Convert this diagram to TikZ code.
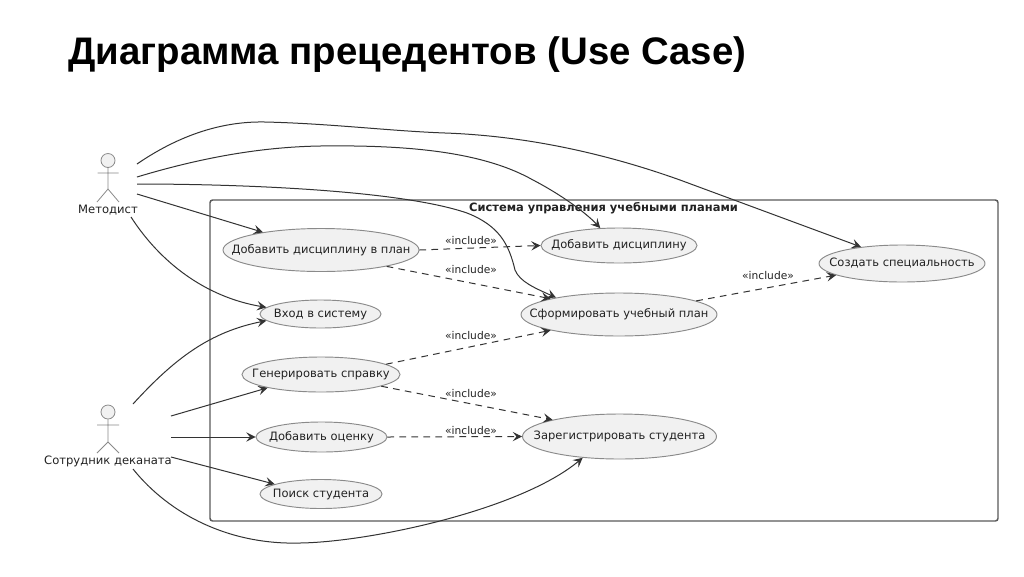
\documentclass[tikz,border=0pt]{standalone}
\usepackage{fontspec}
\setmainfont{DejaVu Sans}
\newfontfamily\titlefont{Liberation Sans}
\usetikzlibrary{shapes.geometric,arrows.meta}
\definecolor{edgec}{HTML}{333333}
\definecolor{casefill}{HTML}{F1F1F1}
\definecolor{casedraw}{HTML}{8A8A8A}
\definecolor{framec}{HTML}{5A5A5A}
\definecolor{txtc}{HTML}{222222}
\newcommand{\uctext}[1]{\makebox[0pt][c]{\raisebox{-1.1pt}{#1}}}
\tikzset{
  x=0.75pt,y=-0.75pt,
  usecase/.style={ellipse,draw=casedraw,fill=casefill,line width=0.7pt,inner sep=0pt,text=txtc,font=\fontsize{8.63}{10}\selectfont},
  assoc/.style={draw=edgec,line width=0.75pt,-{Stealth[length=7pt,width=7pt,inset=2.8pt]}},
  incl/.style={assoc,dash pattern=on 5pt off 4pt},
  inclabel/.style={text=txtc,font=\fontsize{8}{9}\selectfont,inner sep=0pt},
  actorline/.style={draw=casedraw,line width=0.6pt},
  actorhead/.style={circle,draw=casedraw,fill=casefill,line width=0.6pt,minimum size=10.5pt,inner sep=0pt},
  actorlabel/.style={text=txtc,font=\fontsize{8.68}{10}\selectfont,inner sep=0pt},
}
\begin{document}
\begin{tikzpicture}
\useasboundingbox (0,0) rectangle (1024,576);
\fill[white] (0,0) rectangle (1024,576);
\node[anchor=base west,inner sep=0pt,font=\titlefont\bfseries\fontsize{28.8}{32}\selectfont,text=black] (title) at (68,64) {Диаграмма прецедентов (Use Case)};
% system frame
\node[draw=framec,line width=1.1pt,rounded corners=2pt,minimum width=591pt,minimum height=240.75pt,inner sep=0pt] (sys) at (604,360.5) {};
\node[font=\bfseries\fontsize{8.6}{10}\selectfont,text=txtc,inner sep=0pt] (systitle) at (603.5,208) {Система управления учебными планами};
% use cases
\node[usecase,minimum width=147pt,minimum height=32.25pt] (plan) at (321,250) {\uctext{Добавить дисциплину в план}};
\node[usecase,minimum width=90.75pt,minimum height=21pt] (login) at (320.5,314) {\uctext{Вход в систему}};
\node[usecase,minimum width=118.5pt,minimum height=26.25pt] (report) at (321,374.5) {\uctext{Генерировать справку}};
\node[usecase,minimum width=98.25pt,minimum height=22.5pt] (grade) at (321.5,437) {\uctext{Добавить оценку}};
\node[usecase,minimum width=91.5pt,minimum height=21.75pt] (search) at (321,494) {\uctext{Поиск студента}};
\node[usecase,minimum width=117pt,minimum height=26.25pt] (disc) at (619,245.5) {\uctext{Добавить дисциплину}};
\node[usecase,minimum width=147pt,minimum height=32.25pt] (form) at (619,314.5) {\uctext{Сформировать учебный план}};
\node[usecase,minimum width=124.5pt,minimum height=27.75pt] (spec) at (902,263.5) {\uctext{Создать специальность}};
\node[usecase,minimum width=145.5pt,minimum height=33.75pt] (reg) at (619.5,436.5) {\uctext{Зарегистрировать студента}};
% actors
\node[actorhead] (mhead) at (108,160.5) {};
\draw[actorline] (mhead.south) -- (108,189) -- (97,202) (108,189) -- (119,202) (97.5,173) -- (118.5,173);
\node[actorlabel] (mlabel) at (108,210) {Методист};
\node[actorhead] (shead) at (108,412) {};
\draw[actorline] (shead.south) -- (108,442) -- (97,453) (108,442) -- (119,453) (97,425) -- (119,425);
\node[actorlabel] (slabel) at (108,461) {Сотрудник деканата};
% connector start points
\coordinate (m1) at (137,164);
\coordinate (m2) at (137,177);
\coordinate (m3) at (137,184);
\coordinate (m4) at (137,194);
\coordinate (m5) at (131,217);
\coordinate (s1) at (133,404);
\coordinate (s2) at (171,416);
\coordinate (s3) at (171,437);
\coordinate (s4) at (171,457);
\coordinate (s5) at (133,469);
% associations
\draw[assoc] (m1) .. controls (175,138) and (218,121) .. (265,122) .. controls (330,123.5) and (390,131) .. (445,133) .. controls (530,136) and (610,155) .. (680,180) -- (spec.158);
\draw[assoc] (m2) .. controls (200,158) and (260,147) .. (320,146) .. controls (400,145) and (480,150) .. (533,180) .. controls (560,194) and (585,212) .. (disc.137);
\draw[assoc] (m3) .. controls (240,184) and (400,190) .. (467,213) .. controls (500,226) and (509,245) .. (515,270) .. controls (520,282) and (535,288) .. (form.165);
\draw[assoc] (m4) -- (plan.163);
\draw[assoc] (m5) .. controls (160,262) and (205,297) .. (login.173);
\draw[assoc] (s1) .. controls (175,358) and (210,332) .. (login.187);
\draw[assoc] (s2) -- (report.194.6);
\draw[assoc] (s3) -- (grade.west);
\draw[assoc] (s4) -- (search.168.4);
\draw[assoc] (s5) .. controls (170,515) and (230,545) .. (300,543) .. controls (370,542) and (520,510) .. (reg.210.7);
% includes
\draw[incl] (plan.east) -- (disc.west);
\draw[incl] (plan.-14) -- (form.167);
\draw[incl] (report.9.3) -- (form.193);
\draw[incl] (report.-11.6) -- (reg.166);
\draw[incl] (grade.east) -- (reg.west);
\draw[incl] (form.10.8) -- (spec.190.7);
\node[inclabel] (i1) at (471,241) {«include»};
\node[inclabel] (i2) at (471,270) {«include»};
\node[inclabel] (i3) at (471,336) {«include»};
\node[inclabel] (i4) at (471,394) {«include»};
\node[inclabel] (i5) at (471,431) {«include»};
\node[inclabel] (i6) at (768,276) {«include»};
\end{tikzpicture}
\end{document}
